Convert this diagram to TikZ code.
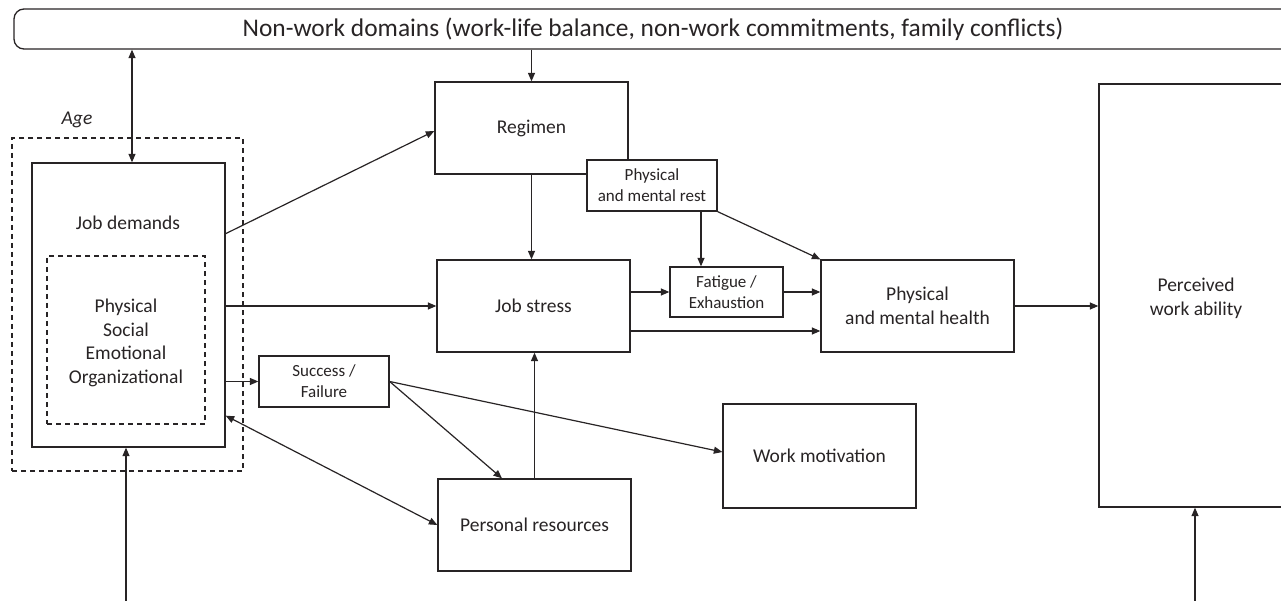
\documentclass[tikz,border=0pt]{standalone}
\usepackage{fontspec}
\setmainfont{Carlito}
\usetikzlibrary{arrows.meta,calc}
\definecolor{lc}{RGB}{40,36,37}
\tikzset{
  box/.style={draw=lc, line width=1.3pt, fill=white, inner sep=0pt, align=center,
    font={\fontsize{19.5}{24}\selectfont}, text=lc},
  sbox/.style={box, font={\fontsize{17}{21}\selectfont}},
  dbox/.style={draw=lc, line width=1.2pt, dash pattern=on 5pt off 4pt, inner sep=0pt},
  lbl/.style={text=lc, inner sep=0pt, align=center, font={\fontsize{19.5}{23.5}\selectfont}},
  arr/.style={draw=lc, line width=1.2pt, -{Triangle[length=8.5pt,width=7pt]}},
  arrb/.style={draw=lc, line width=1.2pt, {Triangle[length=8.5pt,width=7pt]}-{Triangle[length=8.5pt,width=7pt]}},
}
\begin{document}
\begin{tikzpicture}[x=1pt,y=-1pt]
\useasboundingbox (0,0) rectangle (1281,601);
\clip (0,0) rectangle (1281,601);
\fill[white] (0,0) rectangle (1281,601);

% banner
\node[box, rounded corners=10pt, minimum width=1278pt, minimum height=40pt,
  font={\fontsize{25.4}{30}\selectfont}] (banner) at (653,29)
  {Non-work domains (work-life balance, non-work commitments, family conflicts)};

% age frame
\node[dbox, minimum width=231pt, minimum height=333pt] (age) at (127.5,304.5) {};
\node[lbl, font={\fontsize{19.5}{24}\selectfont\itshape}] (agel) at (77,120) {Age};

% job demands
\node[box, minimum width=193pt, minimum height=284pt] (jd) at (128.5,305) {};
\node[lbl] (jdl) at (128,223) {Job demands};
\node[dbox, minimum width=158pt, minimum height=168pt] (jdi) at (126,340) {};
\node[lbl] (jdil) at (126,343) {Physical\\Social\\Emotional\\Organizational};

% middle column
\node[box, minimum width=193pt, minimum height=92pt] (reg) at (531.5,128) {Regimen};
\node[sbox, minimum width=130pt, minimum height=51pt] (rest) at (652,185.5) {Physical\\and mental rest};
\node[box, minimum width=193pt, minimum height=92pt] (js) at (533.5,306) {Job stress};
\node[sbox, minimum width=113pt, minimum height=50pt] (fat) at (726.5,292) {Fatigue /\\Exhaustion};
\node[box, minimum width=193pt, minimum height=92pt] (hl) at (917.5,306) {Physical\\and mental health};
\node[sbox, minimum width=130pt, minimum height=51pt] (ss) at (324,381.5) {Success /\\Failure};
\node[box, minimum width=193pt, minimum height=92pt] (pr) at (534.5,525) {Personal resources};
\node[box, minimum width=193pt, minimum height=104pt] (wm) at (819.5,456) {Work motivation};
\node[box, minimum width=194pt, minimum height=423pt] (pwa) at (1196,295.5) {};
\node[lbl, font={\fontsize{19.5}{24}\selectfont}] (pwal) at (1196,298.5) {Perceived\\work ability};

\coordinate (b1) at (126,601);
\coordinate (b2) at (1195,601);

% connectors
\draw[arrb] ([xshift=3.5pt]jd.north) -- ([xshift=3.5pt]jd.north |- banner.south);
\draw[arr] (b1) -- (b1 |- jd.south);
\draw[arr] (reg.north |- banner.south) -- (reg.north);
\draw[arr] ($(jd.north east)!0.25!(jd.south east)$) -- ([yshift=-3pt]reg.west);
\draw[arr] (jd.east |- js.west) -- (js.west);
\draw[arr] (jd.east |- ss.west) -- (ss.west);
\draw[arrb] ([yshift=32pt]jd.south east) -- (pr.west);
\draw[arr] (reg.south) -- (reg.south |- js.north);
\draw[arr] ([xshift=49pt]rest.south) -- ([xshift=49pt]rest.south |- fat.north);
\draw[arr] (rest.south east) -- (hl.north west);
\draw[arr] (js.east |- fat.west) -- (fat.west);
\draw[arr] (fat.east) -- (fat.east -| hl.west);
\draw[arr] ([yshift=-25pt]js.east) -- ([yshift=-25pt]js.east -| hl.west);
\draw[arr] (hl.east) -- (hl.east -| pwa.west);
\draw[arr] (ss.east) -- ([xshift=-32.5pt]pr.north);
\draw[arr] (ss.east) -- ([yshift=4pt]wm.west);
\draw[arr] (pr.north) -- (pr.north |- js.south);
\draw[arr] (b2) -- (b2 |- pwa.south);
\end{tikzpicture}
\end{document}
